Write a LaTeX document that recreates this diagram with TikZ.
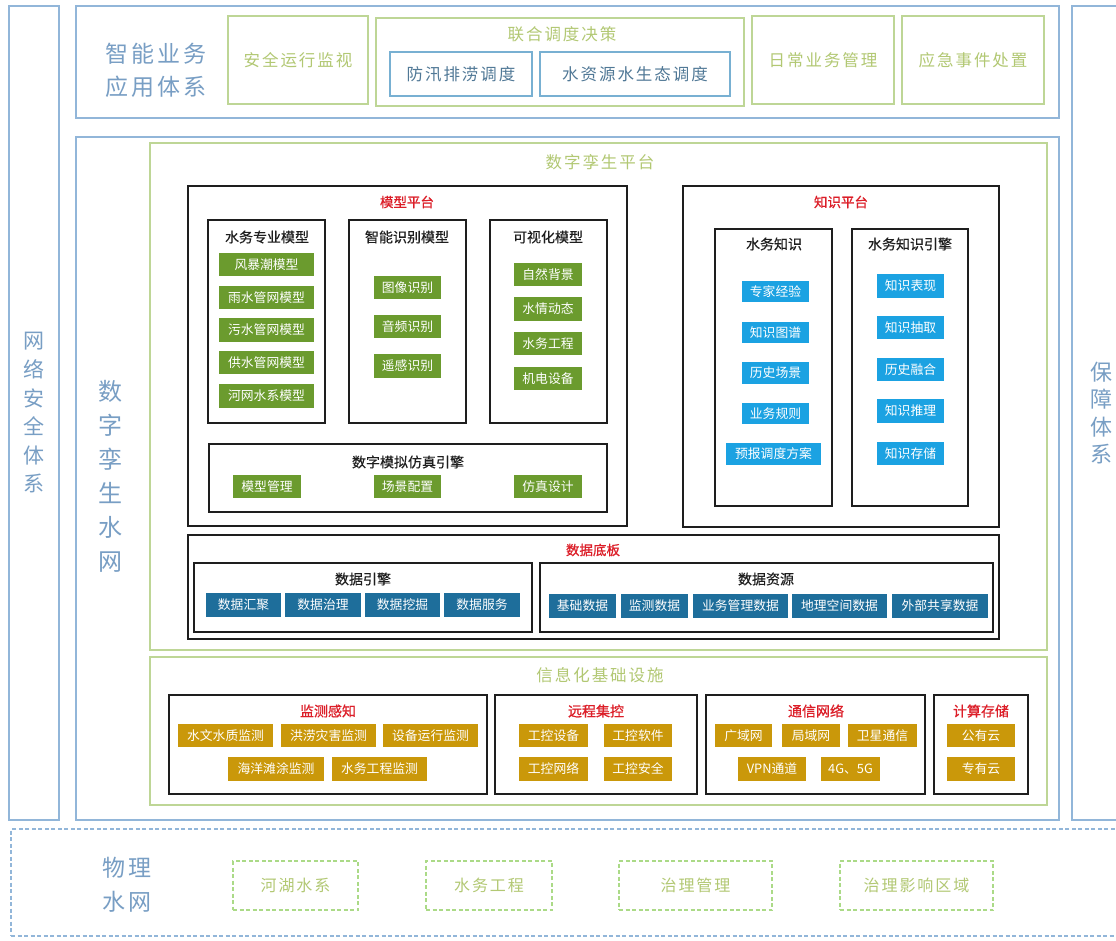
\documentclass[tikz,border=0pt]{standalone}
\usepackage{fontspec}
\setmainfont{Noto Sans CJK SC}
\newfontfamily\lsfont[LetterSpace=12]{Noto Sans CJK SC}
\newfontfamily\fbfont[FakeBold=0.8]{Noto Sans CJK SC}
\newfontfamily\fbfontlight[FakeBold=0.35]{Noto Sans CJK SC}
\definecolor{bl}{RGB}{146,182,217}
\definecolor{grn}{RGB}{190,214,150}
\definecolor{ttl}{RGB}{120,158,196}
\definecolor{gtx}{RGB}{178,200,115}
\definecolor{ibl}{RGB}{120,176,210}
\definecolor{itx}{RGB}{80,120,150}
\definecolor{mgreen}{RGB}{107,155,46}
\definecolor{kblue}{RGB}{27,162,226}
\definecolor{dblue}{RGB}{30,110,155}
\definecolor{gold}{RGB}{202,152,10}
\definecolor{rtx}{RGB}{220,30,40}
\definecolor{btx}{RGB}{30,30,30}
\newcommand\mybox[7]{\node[#2, minimum width={(#5-#3)*1pt}, minimum height={(#6-#4)*1pt}] (#1) at ({(#3+#5)/2},{(#4+#6)/2}) {#7};}
\tikzset{
  every node/.style={inner sep=0pt, outer sep=0pt},
  bluebox/.style={draw=bl, line width=1.3pt},
  greenbox/.style={draw=grn, line width=1.3pt},
  blkbox/.style={draw=btx, line width=1.4pt},
  dashbl/.style={draw=bl, line width=1.2pt, dash pattern=on 4pt off 2.5pt},
  dashgr/.style={draw=grn!90!green, line width=1.3pt, dash pattern=on 4pt off 2.5pt, text=gtx, font=\lsfont\fontsize{16}{18}\selectfont},
  gbig/.style={greenbox, text=gtx, font=\lsfont\fontsize{16.5}{18}\selectfont},
  gtitle/.style={text=gtx, font=\lsfont\fontsize{16.5}{18}\selectfont},
  innerbl/.style={draw=ibl, line width=1.2pt, text=itx, font=\lsfont\fontsize{16.5}{18}\selectfont},
  bigtxt/.style={text=ttl, align=center},
  rtitle/.style={text=rtx, font=\fbfont\fontsize{13.5}{15}\selectfont},
  rtitleb/.style={text=rtx, font=\fbfont\fontsize{14}{16}\selectfont},
  btitle/.style={text=btx, font=\fbfontlight\fontsize{14}{16}\selectfont},
  itemtxt/.style={text=white, font=\fontsize{12.8}{14}\selectfont},
  mitem/.style={itemtxt, fill=mgreen},
  kitem/.style={itemtxt, fill=kblue},
  ditem/.style={itemtxt, fill=dblue},
  gitem/.style={itemtxt, fill=gold},
}
\begin{document}
\begin{tikzpicture}[x=1pt,y=-1pt]
\path[use as bounding box, fill=white] (0,0) rectangle (1116,940);

% ---------- side columns ----------
\mybox{secsys}{bluebox, bigtxt, font=\fontsize{21}{28.6}\selectfont}{9}{6}{59}{820}{网\\络\\安\\全\\体\\系}
\mybox{guar}{bluebox, bigtxt, font=\fontsize{22}{27.5}\selectfont}{1072}{6}{1130}{820}{保\\障\\体\\系}

% ---------- application layer ----------
\mybox{app}{bluebox}{76}{6}{1059}{118}{}
\node[bigtxt, font=\lsfont\fontsize{23}{33}\selectfont] (applbl) at (156,70) {智能业务\\应用体系};
\mybox{safe}{gbig}{228}{16}{368}{104}{安全运行监视}
\mybox{joint}{greenbox}{376}{18}{744}{106}{}
\node[gtitle] (jointt) at (562,34) {联合调度决策};
\mybox{flood}{innerbl}{390}{52}{532}{96}{防汛排涝调度}
\mybox{eco}{innerbl}{540}{52}{730}{96}{水资源水生态调度}
\mybox{daily}{gbig}{752}{16}{894}{104}{日常业务管理}
\mybox{emerg}{gbig}{902}{16}{1044}{104}{应急事件处置}

% ---------- digital twin water network ----------
\mybox{dtw}{bluebox}{76}{137}{1059}{820}{}
\node[bigtxt, font=\fontsize{24}{34}\selectfont] (dtwlbl) at (110,476) {数\\字\\孪\\生\\水\\网};

\mybox{dtp}{greenbox}{150}{143}{1047}{650}{}
\node[gtitle] (dtpt) at (600,162) {数字孪生平台};

% model platform
\mybox{mp}{blkbox}{188}{186}{627}{526}{}
\node[rtitle] (mpt) at (407,202) {模型平台};
\mybox{wm}{blkbox}{208}{220}{325}{423}{}
\node[btitle] (wmt) at (267,237) {水务专业模型};
\mybox{wm1}{mitem}{219}{253}{314}{276}{风暴潮模型}
\mybox{wm2}{mitem}{219}{286}{314}{309}{雨水管网模型}
\mybox{wm3}{mitem}{219}{318}{314}{342}{污水管网模型}
\mybox{wm4}{mitem}{219}{351}{314}{374}{供水管网模型}
\mybox{wm5}{mitem}{219}{384}{314}{408}{河网水系模型}
\mybox{im}{blkbox}{349}{220}{466}{423}{}
\node[btitle] (imt) at (407,237) {智能识别模型};
\mybox{im1}{mitem}{374}{276}{441}{299}{图像识别}
\mybox{im2}{mitem}{374}{315}{441}{338}{音频识别}
\mybox{im3}{mitem}{374}{354}{441}{378}{遥感识别}
\mybox{vm}{blkbox}{490}{220}{607}{423}{}
\node[btitle] (vmt) at (548,237) {可视化模型};
\mybox{vm1}{mitem}{514}{263}{582}{286}{自然背景}
\mybox{vm2}{mitem}{514}{297}{582}{321}{水情动态}
\mybox{vm3}{mitem}{514}{332}{582}{355}{水务工程}
\mybox{vm4}{mitem}{514}{367}{582}{390}{机电设备}
\mybox{sim}{blkbox}{209}{444}{607}{512}{}
\node[btitle] (simt) at (408,462) {数字模拟仿真引擎};
\mybox{sim1}{mitem}{233}{475}{301}{498}{模型管理}
\mybox{sim2}{mitem}{374}{475}{441}{498}{场景配置}
\mybox{sim3}{mitem}{514}{475}{582}{498}{仿真设计}

% knowledge platform
\mybox{kp}{blkbox}{683}{186}{999}{527}{}
\node[rtitle] (kpt) at (841,202) {知识平台};
\mybox{wk}{blkbox}{715}{229}{832}{506}{}
\node[btitle] (wkt) at (774,244) {水务知识};
\mybox{wk1}{kitem}{742}{281}{809}{302}{专家经验}
\mybox{wk2}{kitem}{742}{322}{809}{343}{知识图谱}
\mybox{wk3}{kitem}{742}{362}{809}{384}{历史场景}
\mybox{wk4}{kitem}{742}{403}{809}{424}{业务规则}
\mybox{wk5}{kitem}{726}{443}{821}{465}{预报调度方案}
\mybox{ke}{blkbox}{852}{229}{968}{506}{}
\node[btitle] (ket) at (910,244) {水务知识引擎};
\mybox{ke1}{kitem}{877}{274}{944}{298}{知识表现}
\mybox{ke2}{kitem}{877}{316}{944}{339}{知识抽取}
\mybox{ke3}{kitem}{877}{358}{944}{381}{历史融合}
\mybox{ke4}{kitem}{877}{399}{944}{423}{知识推理}
\mybox{ke5}{kitem}{877}{442}{944}{465}{知识存储}

% data base board
\mybox{db}{blkbox}{188}{535}{999}{639}{}
\node[rtitle] (dbt) at (593,550) {数据底板};
\mybox{de}{blkbox}{194}{563}{532}{632}{}
\node[btitle] (det) at (363,579) {数据引擎};
\mybox{de1}{ditem}{206}{593}{281}{617}{数据汇聚}
\mybox{de2}{ditem}{285}{593}{361}{617}{数据治理}
\mybox{de3}{ditem}{365}{593}{440}{617}{数据挖掘}
\mybox{de4}{ditem}{444}{593}{520}{617}{数据服务}
\mybox{dr}{blkbox}{540}{563}{993}{632}{}
\node[btitle] (drt) at (766,579) {数据资源};
\mybox{dr1}{ditem}{549}{594}{616}{618}{基础数据}
\mybox{dr2}{ditem}{621}{594}{688}{618}{监测数据}
\mybox{dr3}{ditem}{693}{594}{788}{618}{业务管理数据}
\mybox{dr4}{ditem}{792}{594}{887}{618}{地理空间数据}
\mybox{dr5}{ditem}{892}{594}{988}{618}{外部共享数据}

% infrastructure
\mybox{infra}{greenbox}{150}{657}{1047}{805}{}
\node[gtitle] (infrat) at (600,675) {信息化基础设施};
\mybox{mon}{blkbox}{169}{695}{487}{794}{}
\node[rtitleb] (mont) at (328,711) {监测感知};
\mybox{mon1}{gitem}{178}{724}{273}{747}{水文水质监测}
\mybox{mon2}{gitem}{281}{724}{376}{747}{洪涝灾害监测}
\mybox{mon3}{gitem}{383}{724}{478}{747}{设备运行监测}
\mybox{mon4}{gitem}{228}{757}{324}{781}{海洋滩涂监测}
\mybox{mon5}{gitem}{332}{757}{427}{781}{水务工程监测}
\mybox{rc}{blkbox}{495}{695}{697}{794}{}
\node[rtitleb] (rct) at (596,711) {远程集控};
\mybox{rc1}{gitem}{519}{724}{588}{747}{工控设备}
\mybox{rc2}{gitem}{604}{724}{672}{747}{工控软件}
\mybox{rc3}{gitem}{519}{757}{588}{781}{工控网络}
\mybox{rc4}{gitem}{604}{757}{672}{781}{工控安全}
\mybox{cn}{blkbox}{706}{695}{925}{794}{}
\node[rtitleb] (cnt) at (816,711) {通信网络};
\mybox{cn1}{gitem}{715}{724}{772}{747}{广域网}
\mybox{cn2}{gitem}{782}{724}{840}{747}{局域网}
\mybox{cn3}{gitem}{848}{724}{917}{747}{卫星通信}
\mybox{cn4}{gitem}{738}{757}{806}{781}{VPN通道}
\mybox{cn5}{gitem}{821}{757}{880}{781}{4G、5G}
\mybox{cs}{blkbox}{934}{695}{1028}{794}{}
\node[rtitleb] (cst) at (981,711) {计算存储};
\mybox{cs1}{gitem}{947}{724}{1015}{747}{公有云}
\mybox{cs2}{gitem}{947}{757}{1015}{781}{专有云}

% ---------- physical water network ----------
\mybox{phys}{dashbl}{11}{829}{1130}{936}{}
\node[bigtxt, font=\lsfont\fontsize{23}{34}\selectfont] (physlbl) at (127,885) {物理\\水网};
\mybox{ph1}{dashgr}{233}{861}{358}{910}{河湖水系}
\mybox{ph2}{dashgr}{426}{861}{552}{910}{水务工程}
\mybox{ph3}{dashgr}{619}{861}{772}{910}{治理管理}
\mybox{ph4}{dashgr}{840}{861}{993}{910}{治理影响区域}
\end{tikzpicture}
\end{document}
